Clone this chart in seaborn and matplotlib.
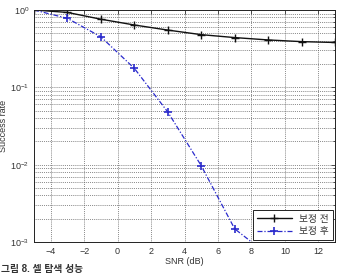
import matplotlib
matplotlib.use("Agg")
import matplotlib.pyplot as plt
import seaborn as sns
import numpy as np
from matplotlib.ticker import LogLocator, NullFormatter, FixedLocator

sns.set_style("white")
plt.rcParams['font.family'] = ['Liberation Sans', 'Noto Sans CJK KR']

snr_before = [-5, -3, -1, 1, 3, 5, 7, 9, 11, 13]
rate_before = [1.0, 0.93, 0.76, 0.64, 0.55, 0.48, 0.44, 0.41, 0.39, 0.38]
snr_after = [-5, -3, -1, 1, 3, 5, 7, 9]
rate_after = [1.0, 0.78, 0.45, 0.176, 0.048, 0.0097, 0.00148, 0.00068]
labels = ["보정 전", "보정 후"]
xticks = [-4, -2, 0, 2, 4, 6, 8, 10, 12]

fig = plt.figure(figsize=(3.38, 2.76), dpi=100)
ax = fig.add_axes([34/338, 1-242/276, (335-34)/338, (242-10)/276])

sns.lineplot(x=snr_before, y=rate_before, color="#111111", linestyle="-",
             marker="+", markersize=5.5, markeredgewidth=1.0, markeredgecolor="#111111",
             linewidth=1.0, label=labels[0], ax=ax)
sns.lineplot(x=snr_after, y=rate_after, color="#2a2acc", linestyle=(0, (4, 1.5, 1, 1.5)),
             marker="+", markersize=5.5, markeredgewidth=1.2, markeredgecolor="#2a2acc",
             linewidth=0.9, label=labels[1], ax=ax)

ax.set_yscale("log")
ax.set_xlim(-5, 13)
ax.set_ylim(1e-3, 1)
ax.xaxis.set_major_locator(FixedLocator(xticks))
ax.yaxis.set_major_locator(LogLocator(base=10, numticks=10))
ax.yaxis.set_minor_locator(LogLocator(base=10, subs=np.arange(2, 10), numticks=20))
ax.yaxis.set_minor_formatter(NullFormatter())
ax.grid(True, which="major", axis="both", color="#666666", linestyle=(0, (1, 1.3)), linewidth=0.6)
ax.grid(True, which="minor", axis="y", color="#666666", linestyle=(0, (1, 1.3)), linewidth=0.6)
ax.tick_params(axis="both", which="both", direction="in", labelsize=6.5, colors="#333333",
               length=3, width=0.6, top=True, right=True)
ax.tick_params(axis="y", which="minor", length=1.5)
for s in ax.spines.values():
    s.set_color("#222222")
    s.set_linewidth(0.7)

ax.set_xlabel("SNR (dB)", fontsize=6.5, color="#333333", labelpad=1)
ax.set_ylabel("Success rate", fontsize=6.5, color="#333333")
ax.yaxis.set_label_coords(-0.087, 0.5)

leg = ax.legend(loc="lower right", fontsize=7, frameon=True, fancybox=False,
                edgecolor="#222222", borderaxespad=0.25, handlelength=3.6,
                borderpad=0.35, labelspacing=0.25, framealpha=1)
leg.get_frame().set_linewidth(0.7)
for t in leg.get_texts():
    t.set_color("#333333")

fig.text(0.003, 1-269/276, "그림 8. 셀 탐색 성능", fontsize=7, fontweight="bold",
         color="#333333", ha="left", va="center")

fig.savefig("out.png", dpi=100)
